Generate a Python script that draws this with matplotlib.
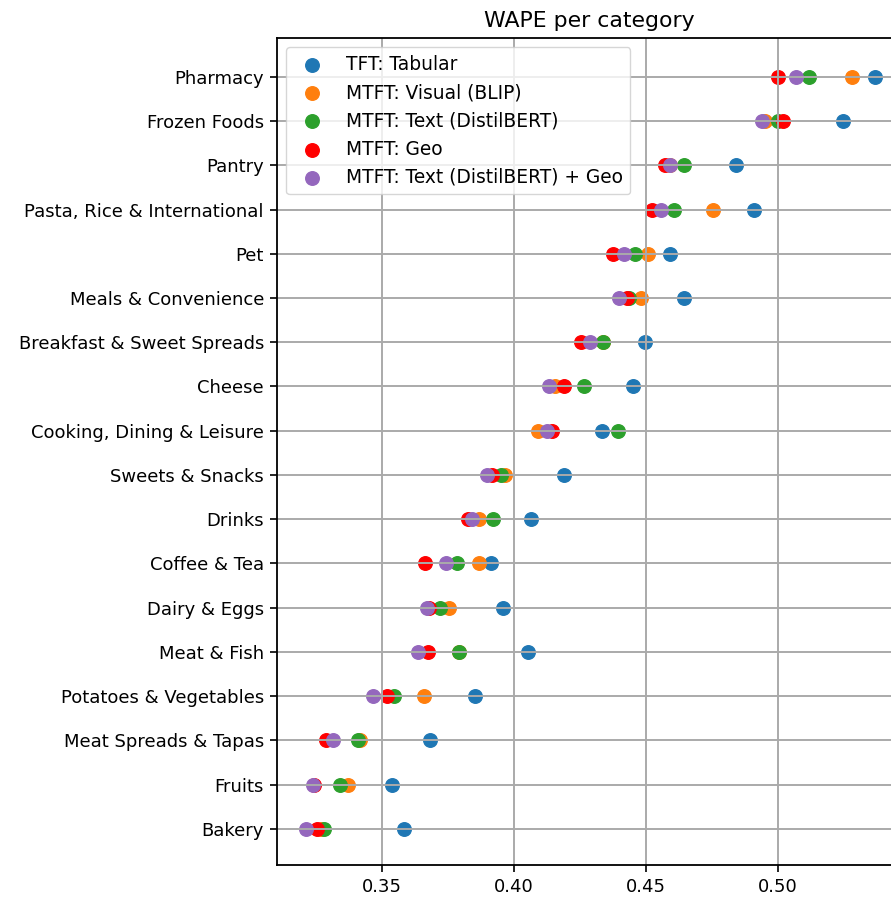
import matplotlib
matplotlib.use("Agg")
import matplotlib.pyplot as plt
import numpy as np

# categories, top row first
categories = [
    "Pharmacy", "Frozen Foods", "Pantry", "Pasta, Rice & International", "Pet",
    "Meals & Convenience", "Breakfast & Sweet Spreads", "Cheese",
    "Cooking, Dining & Leisure", "Sweets & Snacks", "Drinks", "Coffee & Tea",
    "Dairy & Eggs", "Meat & Fish", "Potatoes & Vegetables",
    "Meat Spreads & Tapas", "Fruits", "Bakery",
]

tft_tabular = [0.5367, 0.5246, 0.4840, 0.4909, 0.4591, 0.4644, 0.4496, 0.4451,
               0.4333, 0.4189, 0.4064, 0.3913, 0.3958, 0.4053, 0.3852, 0.3682,
               0.3538, 0.3583]
mtft_visual = [0.5280, 0.4950, 0.4590, 0.4754, 0.4508, 0.4481, 0.4335, 0.4155,
               0.4091, 0.3966, 0.3867, 0.3867, 0.3754, 0.3790, 0.3659, 0.3417,
               0.3371, 0.3270]
mtft_text = [0.5117, 0.5000, 0.4644, 0.4606, 0.4458, 0.4436, 0.4337, 0.4265,
             0.4394, 0.3951, 0.3920, 0.3784, 0.3720, 0.3792, 0.3545, 0.3409,
             0.3341, 0.3280]
mtft_geo = [0.5000, 0.5020, 0.4572, 0.4523, 0.4375, 0.4428, 0.4254, 0.4190,
            0.4144, 0.3917, 0.3826, 0.3663, 0.3678, 0.3674, 0.3519, 0.3288,
            0.3240, 0.3254]
mtft_text_geo = [0.5068, 0.4939, 0.4591, 0.4557, 0.4417, 0.4398, 0.4288, 0.4133,
                 0.4125, 0.3898, 0.3841, 0.3742, 0.3670, 0.3636, 0.3466, 0.3314,
                 0.3239, 0.3212]

series = [
    ("TFT: Tabular", tft_tabular, "#1f77b4"),
    ("MTFT: Visual (BLIP)", mtft_visual, "#ff7f0e"),
    ("MTFT: Text (DistilBERT)", mtft_text, "#2ca02c"),
    ("MTFT: Geo", mtft_geo, "red"),
    ("MTFT: Text (DistilBERT) + Geo", mtft_text_geo, "#9467bd"),
]

plt.rcParams["font.size"] = 13

fig = plt.figure(figsize=(8.91, 8.98), dpi=100)
ax = fig.add_axes([0.311, 0.0367, 0.70, 0.921])

y = np.arange(len(categories))[::-1]
for label, values, color in series:
    ax.scatter(values, y, s=95, color=color, label=label)

ax.set_yticks(y)
ax.set_yticklabels(categories)
ax.set_xticks([0.35, 0.40, 0.45, 0.50])
ax.set_xlim(0.3102, 0.5465)
ax.set_ylim(-0.82, 17.88)
ax.tick_params(length=5, width=1.2, pad=4.5)
for spine in ax.spines.values():
    spine.set_linewidth(1.3)
ax.grid(True, color="#aaaaaa", linewidth=1.4)
ax.set_title("WAPE per category", fontsize=15.8, pad=8)
ax.legend(loc="upper left", fontsize=13.4)

fig.savefig("out.png", dpi=100)
